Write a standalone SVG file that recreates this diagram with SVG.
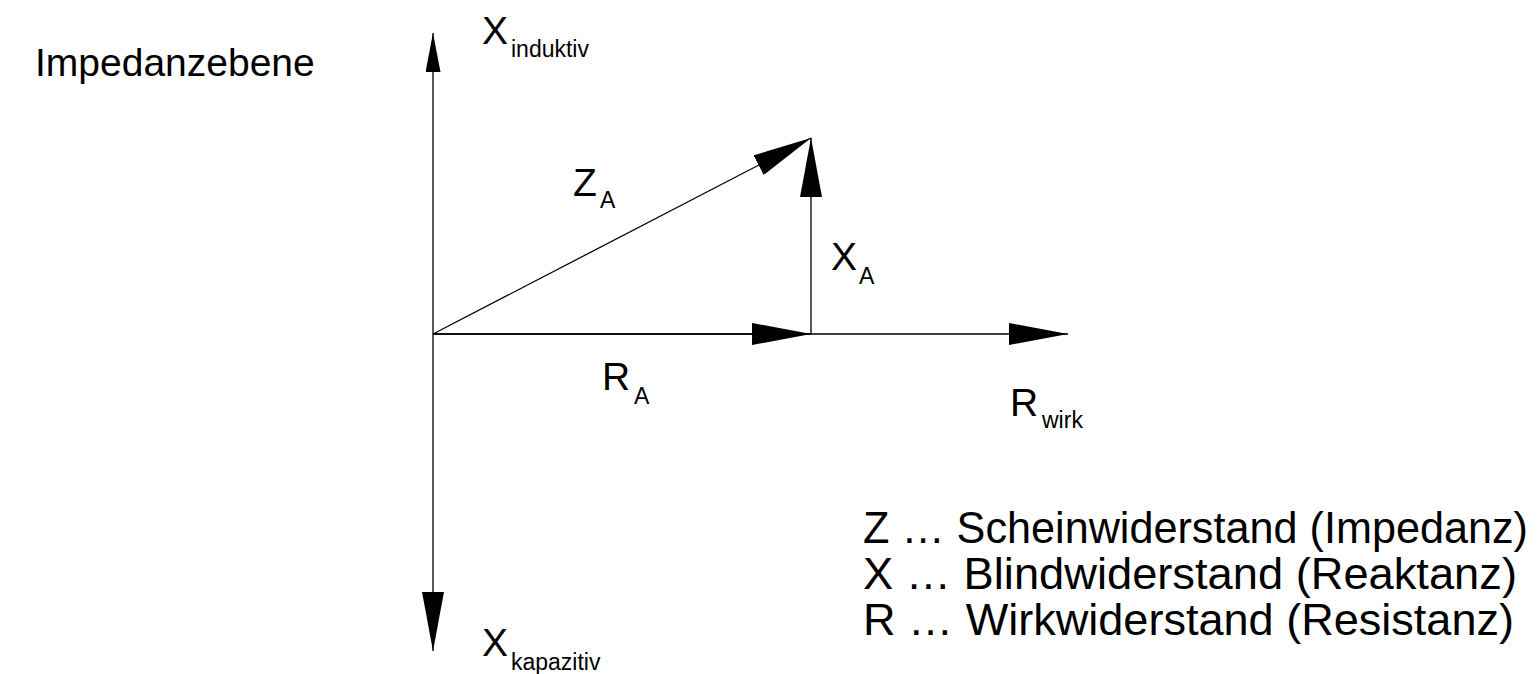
<svg xmlns="http://www.w3.org/2000/svg" width="1540" height="674" viewBox="0 0 1540 674">
<style>
  text { font-family: "Liberation Sans", Arial, sans-serif; fill: #000; }
  .main { font-size: 39px; }
  .sub { font-size: 23px; }
  .legend { font-size: 44px; }
  .line { stroke: #000; stroke-width: 1.3; fill: none; }
</style>
<defs>
  <marker id="big" viewBox="0 0 59 22" refX="59" refY="11" markerWidth="59" markerHeight="22" markerUnits="userSpaceOnUse" orient="auto">
    <path d="M0,0 L59,11 L0,22 z" fill="#000"/>
  </marker>
  <marker id="small" viewBox="0 0 39 15" refX="39" refY="7.5" markerWidth="39" markerHeight="15" markerUnits="userSpaceOnUse" orient="auto">
    <path d="M0,0 L39,7.5 L0,15 z" fill="#000"/>
  </marker>
</defs>
<rect width="1540" height="674" fill="#fff"/>
<g id="connectors">
  <path class="line" d="M433,334 L433,33" marker-end="url(#small)"/>
  <path class="line" d="M433,334 L433,651" marker-end="url(#big)"/>
  <path class="line" d="M433,334 L1068,334" marker-end="url(#big)"/>
  <path class="line" d="M433,334 L811,334" marker-end="url(#big)"/>
  <path class="line" d="M811,334 L811,138" marker-end="url(#big)"/>
  <path class="line" d="M433,334 L811,138" marker-end="url(#big)"/>
</g>
<g id="title"><text class="main" x="35" y="76">Impedanzebene</text></g>
<g id="x-induktiv"><text class="main" x="482" y="44">X</text><text class="sub" x="511" y="57">induktiv</text></g>
<g id="x-kapazitiv"><text class="main" x="482" y="656">X</text><text class="sub" x="511" y="670">kapazitiv</text></g>
<g id="z-a"><text class="main" x="573" y="196">Z</text><text class="sub" x="600" y="208">A</text></g>
<g id="x-a"><text class="main" x="831" y="270">X</text><text class="sub" x="859" y="284">A</text></g>
<g id="r-a"><text class="main" x="602" y="390">R</text><text class="sub" x="634" y="404">A</text></g>
<g id="r-wirk"><text class="main" x="1010" y="416">R</text><text class="sub" x="1042" y="428">wirk</text></g>
<g id="legend">
  <text class="legend" x="863" y="543" textLength="665" lengthAdjust="spacingAndGlyphs">Z … Scheinwiderstand (Impedanz)</text>
  <text class="legend" x="863" y="589" textLength="654" lengthAdjust="spacingAndGlyphs">X … Blindwiderstand (Reaktanz)</text>
  <text class="legend" x="863" y="635" textLength="651" lengthAdjust="spacingAndGlyphs">R … Wirkwiderstand (Resistanz)</text>
</g>
</svg>
